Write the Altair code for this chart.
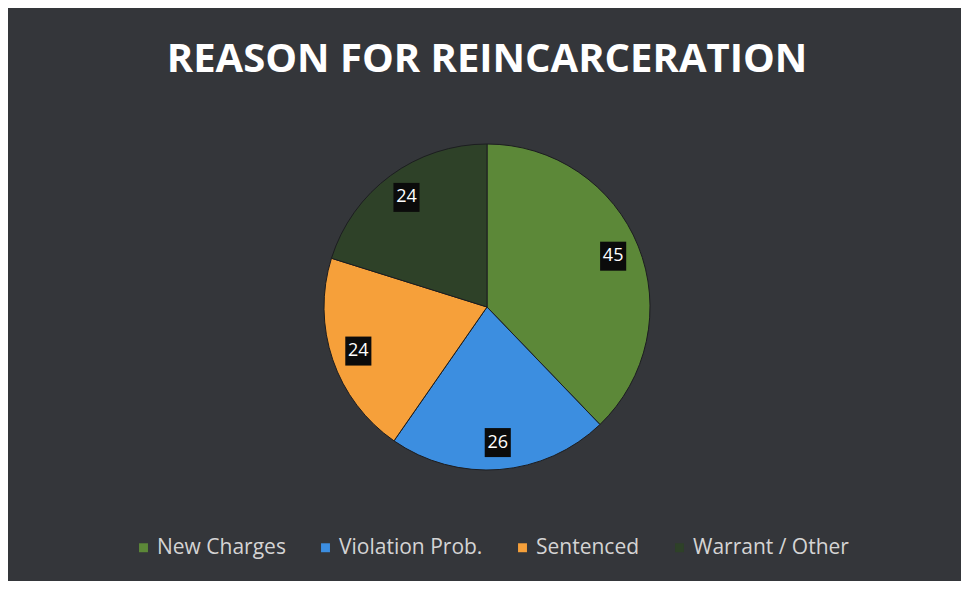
import altair as alt
import pandas as pd

categories = ["New Charges", "Violation Prob.", "Sentenced", "Warrant / Other"]
values = [45, 26, 24, 24]
colors = ["#5c8838", "#3c8ee0", "#f6a03a", "#2e4128"]
order = [0, 1, 2, 3]

df = pd.DataFrame({"category": categories, "value": values, "order": order})

LABEL_R = 136
PIE_R = 163

base = alt.Chart(df).encode(
    theta=alt.Theta("value:Q", stack=True),
    order=alt.Order("order:Q"),
)

pie = base.mark_arc(stroke="#1c1d20", strokeWidth=1).encode(
    color=alt.Color(
        "category:N",
        scale=alt.Scale(domain=categories, range=colors),
        legend=alt.Legend(
            orient="none",
            legendX=-191,
            legendY=393,
            direction="horizontal",
            title=None,
            labelFont="Open Sans",
            labelFontSize=21,
            labelColor="#d4d4d4",
            symbolType="square",
            symbolSize=80,
            symbolStrokeWidth=0,
            columnPadding=29,
            labelOffset=3,
        ),
    )
)

boxes = (
    alt.Chart(df)
    .transform_joinaggregate(total="sum(value)")
    .transform_window(cum="sum(value)", sort=[alt.SortField("order")], frame=[None, 0])
    .transform_calculate(
        mid="(datum.cum - datum.value / 2) / datum.total * 2 * PI",
        bx=f"sin(datum.mid) * {LABEL_R} / {PIE_R}",
        by=f"cos(datum.mid) * {LABEL_R} / {PIE_R}",
    )
    .mark_point(
        filled=True,
        shape="M-0.9,-1H0.9V1H-0.9Z",
        size=841,
        color="#0b0b0b",
        opacity=1,
    )
    .encode(
        x=alt.X("bx:Q", scale=alt.Scale(domain=[-1, 1], zero=False, nice=False), axis=None),
        y=alt.Y("by:Q", scale=alt.Scale(domain=[-1, 1], zero=False, nice=False), axis=None),
    )
)

labels = base.mark_text(
    radius=LABEL_R, font="Open Sans", fontSize=18, color="#ffffff"
).encode(text="value:Q")

chart = (
    alt.layer(pie, boxes, labels)
    .properties(
        width=326,
        height=326,
        autosize=alt.AutoSizeParams(type="none"),
        padding={"left": 316, "right": 311, "top": 136, "bottom": 111},
        background="#34363a",
        title=alt.TitleParams(
            "REASON FOR REINCARCERATION",
            font="Open Sans",
            fontSize=40,
            fontWeight="bold",
            color="#ffffff",
            anchor="middle",
            offset=62,
        ),
    )
    .configure_view(stroke=None)
)

chart.save("out.html", embed_options={"renderer": "svg", "actions": False})
